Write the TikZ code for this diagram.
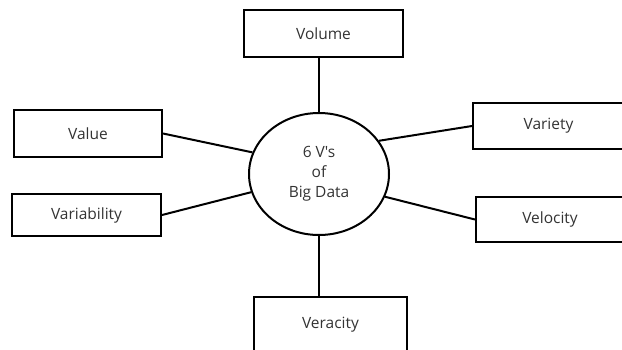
\documentclass[tikz,border=0pt]{standalone}
\usepackage{fontspec}
\newfontfamily\vfont{Open Sans}
\usetikzlibrary{shapes.geometric}
\begin{document}
\begin{tikzpicture}[x=1pt,y=-1pt,
  vbox/.style={draw, line width=2pt, rectangle, inner sep=0pt,
    font=\vfont\fontsize{15.5}{18}\selectfont, text=black!80},
  link/.style={line width=2pt}]
\useasboundingbox (0,0) rectangle (622,349);
% central ellipse
\node[draw, line width=2pt, ellipse, inner sep=0pt, minimum width=140pt, minimum height=122pt,
  align=center, font=\vfont\fontsize{15.5}{20}\selectfont, text=black!80] (c) at (319,174) {6 V's\\of\\Big Data};
% the six V boxes
\node[vbox, minimum width=159pt, minimum height=47pt] (volume) at (323.5,33.5) {Volume};
\node[vbox, minimum width=148pt, minimum height=47pt] (value) at (88,133.5) {Value};
\node[vbox, minimum width=149pt, minimum height=42pt] (variability) at (86.5,215) {Variability};
\node[vbox, minimum width=151pt, minimum height=46pt] (variety) at (548.5,126) {Variety};
\node[vbox, minimum width=148pt, minimum height=45pt] (velocity) at (550,219.5) {Velocity};
\node[vbox, minimum width=153pt, minimum height=55pt] (veracity) at (330.5,324.5) {Veracity};
% connectors
\draw[link] (c.north) -- (c.north |- volume.south);
\draw[link] (c.south) -- (c.south |- veracity.north);
\draw[link] (value.east) -- (c.162);
\draw[link] (variability.east) -- (c.195);
\draw[link] (variety.west) -- (c.29);
\draw[link] (velocity.west) -- (c.-19);
\end{tikzpicture}
\end{document}
